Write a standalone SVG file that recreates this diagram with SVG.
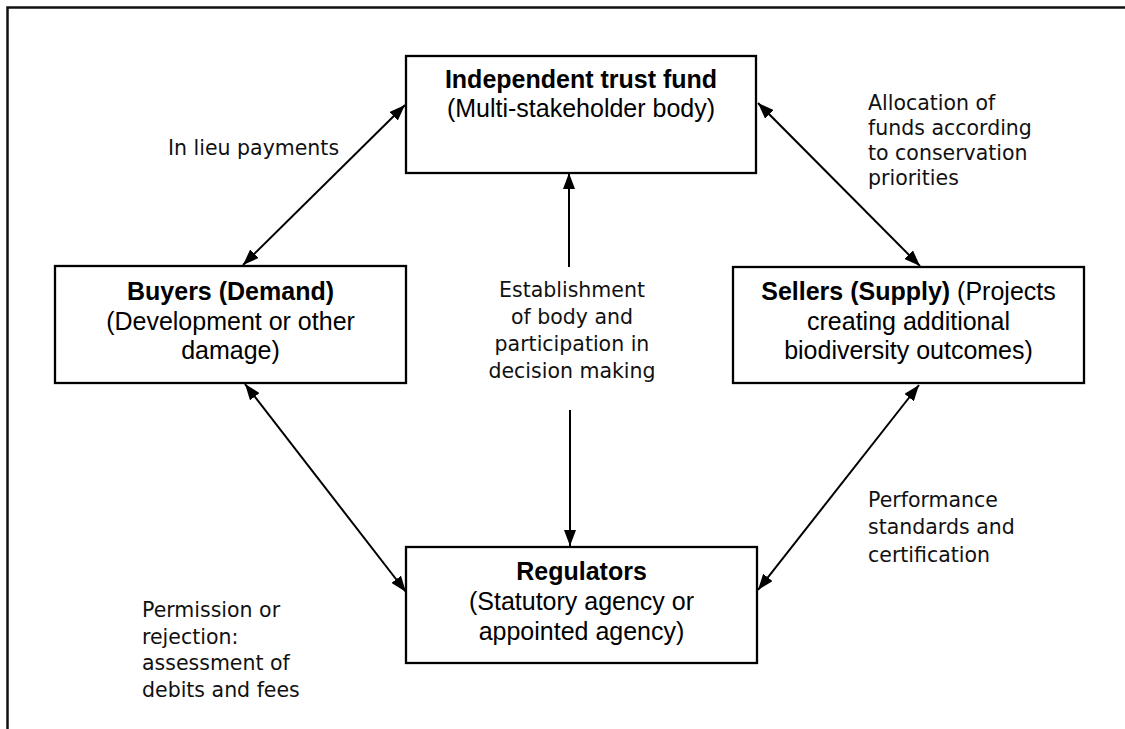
<svg xmlns="http://www.w3.org/2000/svg" width="1125" height="729" viewBox="0 0 1125 729">
  <defs>
    <marker id="head" viewBox="0 0 16 12" markerWidth="16" markerHeight="12" refX="16" refY="6" orient="auto-start-reverse" markerUnits="userSpaceOnUse">
      <path d="M0,0 L16,6 L0,12 z" fill="#000"/>
    </marker>
    <style>
      .box { fill: #fff; stroke: #000; stroke-width: 2.3; }
      .node { font-family: "Liberation Sans", Arial, sans-serif; font-size: 25px; fill: #000; text-anchor: middle; }
      .b { font-weight: bold; }
      .lbl { font-family: "DejaVu Sans", "Noto Sans", sans-serif; font-size: 20.5px; fill: #111; }
      .mid { text-anchor: middle; }
      .link { stroke: #000; stroke-width: 2; fill: none; marker-start: url(#head); marker-end: url(#head); }
      .one { stroke: #000; stroke-width: 2; fill: none; marker-end: url(#head); }
      .frame { stroke: #111; stroke-width: 2.5; fill: none; }
    </style>
  </defs>
  <rect width="1125" height="729" fill="#fff"/>

  <!-- page frame (top and left edges) -->
  <path class="frame" d="M7.5,729 V7.5 H1125"/>

  <!-- connectors -->
  <g id="connectors">
    <line class="link" x1="243" y1="265" x2="405" y2="105"/>
    <line class="link" x1="758" y1="103" x2="920" y2="266"/>
    <line class="one" x1="569" y1="267" x2="569" y2="173"/>
    <line class="one" x1="570" y1="410" x2="570" y2="546"/>
    <line class="link" x1="245" y1="384" x2="406" y2="592"/>
    <line class="link" x1="919" y1="385" x2="758" y2="590"/>
  </g>

  <!-- connector labels -->
  <g id="labels" class="lbl">
    <text x="168" y="155">In lieu payments</text>
    <text x="868" y="110">Allocation of</text>
    <text x="868" y="135">funds according</text>
    <text x="868" y="160">to conservation</text>
    <text x="868" y="185">priorities</text>
    <text class="mid" x="572" y="297">Establishment</text>
    <text class="mid" x="572" y="324">of body and</text>
    <text class="mid" x="572" y="351">participation in</text>
    <text class="mid" x="572" y="378">decision making</text>
    <text x="142" y="617">Permission or</text>
    <text x="142" y="644">rejection:</text>
    <text x="142" y="670">assessment of</text>
    <text x="142" y="697">debits and fees</text>
    <text x="868" y="507">Performance</text>
    <text x="868" y="534">standards and</text>
    <text x="868" y="562">certification</text>
  </g>

  <g id="trust-fund">
    <rect class="box" x="406" y="56" width="350" height="117"/>
    <text class="node b" x="581" y="88">Independent trust fund</text>
    <text class="node" x="581" y="117">(Multi-stakeholder body)</text>
  </g>

  <g id="buyers">
    <rect class="box" x="55" y="266" width="351" height="117"/>
    <text class="node b" x="230.5" y="300">Buyers (Demand)</text>
    <text class="node" x="230.5" y="330">(Development or other</text>
    <text class="node" x="230.5" y="359">damage)</text>
  </g>

  <g id="sellers">
    <rect class="box" x="733" y="267" width="351" height="116"/>
    <text class="node" x="908.5" y="300"><tspan class="b">Sellers (Supply)</tspan> (Projects</text>
    <text class="node" x="908.5" y="330">creating additional</text>
    <text class="node" x="908.5" y="359">biodiversity outcomes)</text>
  </g>

  <g id="regulators">
    <rect class="box" x="406" y="547" width="351" height="116"/>
    <text class="node b" x="581.5" y="580">Regulators</text>
    <text class="node" x="581.5" y="610">(Statutory agency or</text>
    <text class="node" x="581.5" y="640">appointed agency)</text>
  </g>
</svg>
